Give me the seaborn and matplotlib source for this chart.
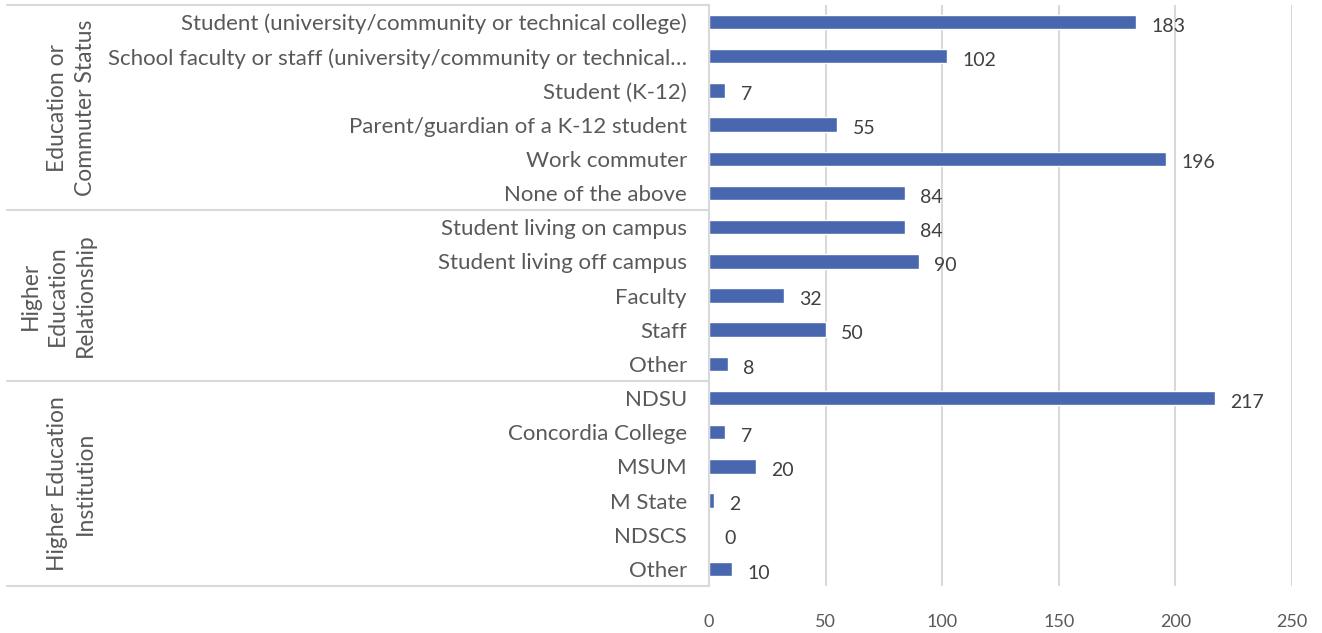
import matplotlib
matplotlib.use("Agg")
import matplotlib.pyplot as plt
import matplotlib.transforms as mtransforms
import pandas as pd
import seaborn as sns

# Survey response counts, grouped by question
groups = ["Education or\nCommuter Status",
          "Higher\nEducation\nRelationship",
          "Higher Education\nInstitution"]

status_labels = ["Student (university/community or technical college)",
                 "School faculty or staff (university/community or technical\u2026",
                 "Student (K-12)",
                 "Parent/guardian of a K-12 student",
                 "Work commuter",
                 "None of the above"]
status_counts = [183, 102, 7, 55, 196, 84]

relationship_labels = ["Student living on campus",
                       "Student living off campus",
                       "Faculty",
                       "Staff",
                       "Other"]
relationship_counts = [84, 90, 32, 50, 8]

institution_labels = ["NDSU",
                      "Concordia College",
                      "MSUM",
                      "M State",
                      "NDSCS",
                      "Other"]
institution_counts = [217, 7, 20, 2, 0, 10]

x_ticks = [0, 50, 100, 150, 200, 250]

sections = [(groups[0], status_labels, status_counts),
            (groups[1], relationship_labels, relationship_counts),
            (groups[2], institution_labels, institution_counts)]

rows = []
for g, labels, counts in sections:
    for lab, c in zip(labels, counts):
        rows.append({"group": g, "item": lab, "key": f"{g}|{lab}", "count": c})
df = pd.DataFrame(rows)

sns.set_theme(style="white")
plt.rcParams["font.family"] = ["Lato", "DejaVu Sans"]

BAR = "#4967AF"
GRID = "#D9D9D9"
LABEL = "#595959"

W, H = 1322, 633
fig = plt.figure(figsize=(W / 100, H / 100), dpi=100)
ax = fig.add_axes([709 / W, 1 - 586 / H, (1292 - 709) / W, (586 - 5) / H])

sns.barplot(data=df, x="count", y="key", orient="h", color=BAR,
            width=0.42, saturation=1, ax=ax, order=list(df["key"]))

ax.set_xlim(0, 250)
ax.set_ylim(len(df) - 0.5, -0.5)
ax.set_xticks(x_ticks)
ax.set_xticklabels([str(t) for t in x_ticks], fontsize=13, color=LABEL)
ax.set_yticks(range(len(df)))
ax.set_yticklabels(df["item"], fontsize=16, color=LABEL)
ax.tick_params(axis="y", length=0, pad=16)
ax.tick_params(axis="x", length=0, pad=20)
ax.set_xlabel("")
ax.set_ylabel("")

ax.grid(axis="x", color=GRID, linewidth=1.5)
ax.set_axisbelow(True)
for s in ["top", "right", "bottom"]:
    ax.spines[s].set_visible(False)
ax.spines["left"].set_color(GRID)
ax.spines["left"].set_linewidth(1.5)

# Value labels to the right of each bar
for i, c in enumerate(df["count"]):
    ax.annotate(str(c), xy=(c, i), xytext=(11, -3), textcoords="offset points",
                ha="left", va="center", fontsize=14, color="#404040")

# Group separators and rotated group titles on the left
blend = mtransforms.blended_transform_factory(fig.transFigure, ax.transData)
x0, x1 = 7 / W, 709 / W
bounds = [-0.5]
start = 0
for g, labels, _ in sections:
    start += len(labels)
    bounds.append(start - 0.5)
for b in bounds:
    ax.plot([x0, x1], [b, b], transform=blend, color=GRID, linewidth=1.5,
            clip_on=False)

for (g, labels, _), lo, hi in zip(sections, bounds[:-1], bounds[1:]):
    ax.text(96 / W, (lo + hi) / 2, g, transform=blend, rotation=90,
            ha="right", va="center", multialignment="center",
            fontsize=16.5, color=LABEL, linespacing=1.4)

fig.savefig("out.png", dpi=100, facecolor="white")
